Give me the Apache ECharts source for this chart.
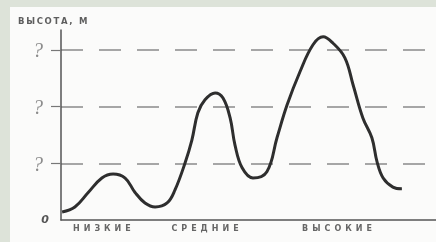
<!DOCTYPE html>
<html>
<head>
<meta charset="utf-8">
<script src="https://cdn.jsdelivr.net/npm/echarts@6/dist/echarts.min.js"></script>
<style>
  html, body {margin: 0; padding: 0; background: #dde3d9; width: 436px; height: 242px; overflow: hidden;}
  #chart {position: absolute; left: 10px; top: 7px; width: 426px; height: 235px; background: #fbfbfa;}
</style>
</head>
<body>
<div id="chart"></div>
<script>
// DATA POINTS (x: 0..100 along the axis, y: height in tick units)
const curve_x = [0.3, 3.7, 7.2, 10.9, 13.9, 17.1, 19.7, 22.4, 25.1, 28.3, 30.4, 33.1, 34.9, 36.5, 38.4, 41.1, 43.2, 45.1, 46.4, 48.3, 51.2, 54.9, 57.6, 60.3, 63.7, 67.2, 69.9, 72.5, 75.7, 77.9, 80.5, 82.9, 84.3, 85.9, 88.5, 90.9];
const curve_y = [0.14, 0.23, 0.48, 0.74, 0.81, 0.74, 0.49, 0.30, 0.23, 0.30, 0.53, 1.01, 1.41, 1.89, 2.12, 2.24, 2.15, 1.80, 1.32, 0.92, 0.74, 0.85, 1.45, 2.03, 2.61, 3.09, 3.23, 3.12, 2.86, 2.38, 1.80, 1.45, 1.02, 0.74, 0.58, 0.55];

const group_names = ["НИЗКИЕ", "СРЕДНИЕ", "ВЫСОКИЕ"];
const group_pos = [10.9, 38.4, 73.6];

const y_ticks = [0, 1, 2, 3];
const y_labels = ["0", "?", "?", "?"];

const axis_name = "ВЫСОТА, М";

// hand lettering is widely spaced
function spaced(s, gap){
  return s.split("").join(gap || "\u2009");
}


function heightChart(){
  return {
    animation: false,
    title: {
      text: spaced(axis_name), left: 8, top: 10, padding: 0,
      textStyle: {fontSize: 8.5, fontWeight: "bold", color: "#5e5e5e", fontFamily: "DejaVu Sans"}
    },
    grid: {left: 51, right: 0, top: 23, bottom: 22},
    xAxis: {
      type: "value", min: 0, max: 100,
      axisLine: {lineStyle: {color: "#555", width: 1.5}},
      axisTick: {show: false},
      splitLine: {show: false},
      axisLabel: {
        customValues: group_pos,
        margin: 5,
        fontSize: 8, fontWeight: "bold", color: "#666", fontFamily: "DejaVu Sans",
        formatter: (v) => spaced(group_names[group_pos.indexOf(v)] || "", "\u2002")
      }
    },
    yAxis: {
      type: "value", min: 0, max: 3.35,
      axisLine: {show: true, lineStyle: {color: "#555", width: 1.5}},
      axisTick: {show: true, customValues: [1, 2, 3], length: 10, lineStyle: {color: "#777", width: 1.2}},
      splitLine: {show: true, lineStyle: {color: "#8a8a8a", width: 1.5, type: [22, 16]}},
      axisLabel: {
        customValues: y_ticks,
        margin: 12,
        formatter: (v) => v === 0 ? "{z|" + y_labels[0] + "}" : "{q|" + y_labels[y_ticks.indexOf(v)] + "}",
        rich: {
          z: {fontSize: 11, fontStyle: "italic", fontWeight: "bold", color: "#555", fontFamily: "DejaVu Sans"},
          q: {fontSize: 20, fontStyle: "italic", color: "#8c8c8c", fontFamily: "Liberation Serif", padding: [4, 6, 0, 0]}
        }
      }
    },
    series: [{
      type: "line",
      data: curve_x.map((x, i) => [x, curve_y[i]]),
      smooth: 0.4,
      symbol: "none",
      lineStyle: {color: "#2e2e2e", width: 3}
    }]
  };
}

const chart = echarts.init(document.getElementById("chart"), null, {renderer: "canvas"});
chart.setOption(heightChart());
</script>
</body>
</html>
